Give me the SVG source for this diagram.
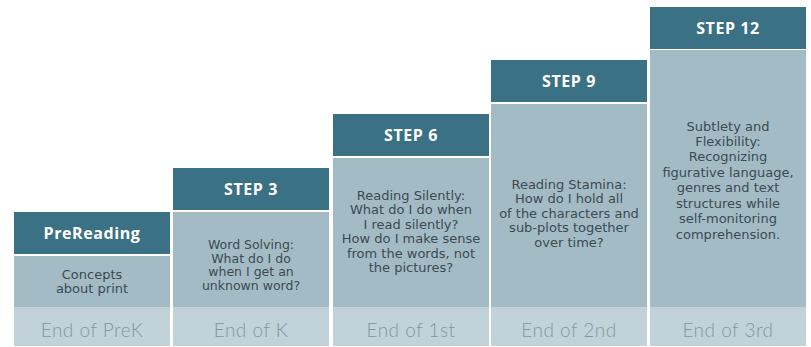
<svg xmlns="http://www.w3.org/2000/svg" width="811" height="347" viewBox="0 0 811 347">
<style>
.hd{fill:#3b7184}
.bd{fill:#a3bbc5}
.bn{fill:#c1d3d9}
.ht{font-family:"Open Sans","Liberation Sans",sans-serif;font-weight:700;font-size:16px;fill:#ffffff;text-anchor:middle;letter-spacing:0.6px}
.bt{font-family:"DejaVu Sans","Liberation Sans",sans-serif;font-size:13px;fill:#3a4b51;text-anchor:middle}
.sm{font-size:12.5px}
.nt{font-family:"Lato","Open Sans","Liberation Sans",sans-serif;font-weight:300;font-size:19px;fill:#85969c;text-anchor:middle;letter-spacing:0.5px}
</style>
<rect width="811" height="347" fill="#ffffff"/>
<g id="prereading">
<rect class="hd" x="14" y="212" width="156" height="42"/>
<rect class="bd" x="14" y="256" width="156" height="51"/>
<rect class="bn" x="14" y="307" width="156" height="39"/>
<text class="ht" x="92" y="239">PreReading</text>
<text class="bt" x="92" y="278.5">Concepts</text>
<text class="bt" x="92" y="293">about print</text>
<text class="nt" x="92" y="337">End of PreK</text>
</g>
<g id="step3">
<rect class="hd" x="173" y="168" width="156" height="42"/>
<rect class="bd" x="173" y="212" width="156" height="95"/>
<rect class="bn" x="173" y="307" width="156" height="39"/>
<text class="ht" x="251" y="195">STEP 3</text>
<text class="bt sm" x="251" y="249">Word Solving:</text>
<text class="bt sm" x="251" y="262.5">What do I do</text>
<text class="bt sm" x="251" y="276">when I get an</text>
<text class="bt sm" x="251" y="289.5">unknown word?</text>
<text class="nt" x="251" y="337">End of K</text>
</g>
<g id="step6">
<rect class="hd" x="333" y="114" width="156" height="42"/>
<rect class="bd" x="333" y="158" width="156" height="149"/>
<rect class="bn" x="333" y="307" width="156" height="39"/>
<text class="ht" x="411" y="141">STEP 6</text>
<text class="bt" x="411" y="199.5">Reading Silently:</text>
<text class="bt" x="411" y="214">What do I do when</text>
<text class="bt" x="411" y="228.5">I read silently?</text>
<text class="bt" x="411" y="243">How do I make sense</text>
<text class="bt" x="411" y="257.5">from the words, not</text>
<text class="bt" x="411" y="272">the pictures?</text>
<text class="nt" x="411" y="337">End of 1st</text>
</g>
<g id="step9">
<rect class="hd" x="491" y="60" width="156" height="42"/>
<rect class="bd" x="491" y="104" width="156" height="203"/>
<rect class="bn" x="491" y="307" width="156" height="39"/>
<text class="ht" x="569" y="87">STEP 9</text>
<text class="bt" x="569" y="188.5">Reading Stamina:</text>
<text class="bt" x="569" y="203">How do I hold all</text>
<text class="bt" x="569" y="217.5">of the characters and</text>
<text class="bt" x="569" y="232">sub-plots together</text>
<text class="bt" x="569" y="246.5">over time?</text>
<text class="nt" x="569" y="337">End of 2nd</text>
</g>
<g id="step12">
<rect class="hd" x="650" y="7" width="156" height="42"/>
<rect class="bd" x="650" y="50" width="156" height="257"/>
<rect class="bn" x="650" y="307" width="156" height="39"/>
<text class="ht" x="728" y="34">STEP 12</text>
<text class="bt" x="728" y="130.5">Subtlety and</text>
<text class="bt" x="728" y="146">Flexibility:</text>
<text class="bt" x="728" y="161.4">Recognizing</text>
<text class="bt" x="728" y="176.8">figurative language,</text>
<text class="bt" x="728" y="192.2">genres and text</text>
<text class="bt" x="728" y="207.6">structures while</text>
<text class="bt" x="728" y="223">self-monitoring</text>
<text class="bt" x="728" y="238.5">comprehension.</text>
<text class="nt" x="728" y="337">End of 3rd</text>
</g>
<g id="connectors"></g>
</svg>
